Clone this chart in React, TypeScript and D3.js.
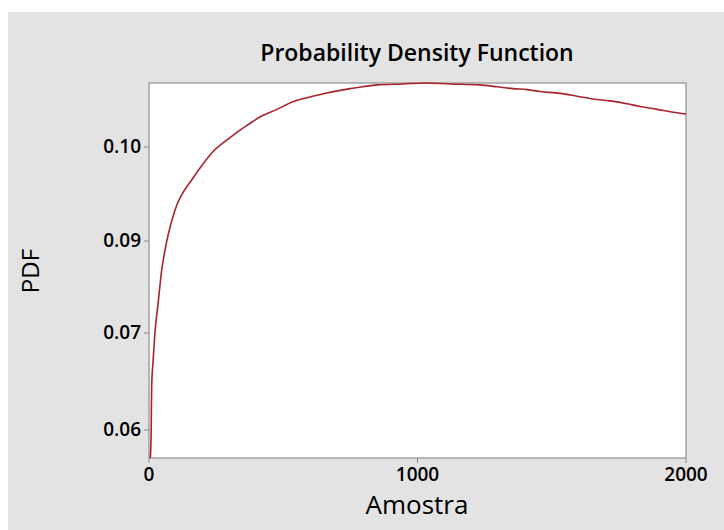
import React, { useEffect, useRef } from "react";
import * as d3 from "d3";

const amostra = [5, 8, 10, 15, 22, 34, 47, 66, 97, 164, 201, 238, 302, 339, 376, 402, 477, 536, 626, 749, 797, 849, 946, 1032, 1121, 1233, 1296, 1356, 1408, 1456, 1531, 1594, 1654, 1717, 1780, 1829, 1892, 1952, 2000];
const pdf = [0.0571, 0.0597, 0.0646, 0.067, 0.07, 0.0765, 0.0835, 0.0899, 0.0933, 0.0967, 0.0982, 0.0995, 0.101, 0.1018, 0.1025, 0.103, 0.104, 0.1048, 0.1055, 0.1062, 0.1064, 0.1066, 0.1067, 0.1068, 0.1067, 0.1066, 0.1064, 0.1062, 0.1061, 0.1059, 0.1057, 0.1054, 0.1051, 0.1049, 0.1046, 0.1043, 0.104, 0.1037, 0.1035];
const xTicks = [0, 1000, 2000];
const yTicks = [0.06, 0.07, 0.09, 0.1];
const yTickLabels = ["0.06", "0.07", "0.09", "0.10"];

const W = 724;
const H = 530;
const plot = { left: 149, top: 83, right: 686, bottom: 458 };
const FONT = "'Open Sans', 'Noto Sans', sans-serif";

export default function App() {
  const ref = useRef<SVGSVGElement | null>(null);

  useEffect(() => {
    const svg = d3.select(ref.current);
    svg.selectAll("*").remove();

    svg.append("rect").attr("x", 8).attr("y", 12).attr("width", W - 8).attr("height", H - 12).attr("fill", "#e3e3e3");

    const x = d3.scaleLinear().domain([0, 2000]).range([plot.left, plot.right]);
    // Non-uniform (piecewise) y axis as in the reference
    const y = d3
      .scaleLinear()
      .domain([0.0571, 0.06, 0.07, 0.09, 0.1, 0.1068])
      .range([plot.bottom, 430, 333, 241, 147, plot.top]);

    svg
      .append("rect")
      .attr("x", plot.left)
      .attr("y", plot.top)
      .attr("width", plot.right - plot.left)
      .attr("height", plot.bottom - plot.top)
      .attr("fill", "#ffffff")
      .attr("stroke", "#a3a3a3")
      .attr("stroke-width", 1.5);

    // y ticks
    const yg = svg.append("g");
    yTicks.forEach((t, i) => {
      const yy = y(t);
      yg.append("line").attr("x1", plot.left - 5).attr("x2", plot.left).attr("y1", yy).attr("y2", yy).attr("stroke", "#8c8c8c").attr("stroke-width", 1);
      yg.append("text")
        .attr("x", plot.left - 8)
        .attr("y", yy - 1)
        .attr("dy", "0.35em")
        .attr("text-anchor", "end")
        .attr("font-family", FONT)
        .attr("font-size", 19)
        .attr("font-weight", 600)
        .attr("fill", "#000")
        .text(yTickLabels[i]);
    });

    // x ticks
    const xg = svg.append("g");
    xTicks.forEach((t) => {
      const xx = x(t);
      xg.append("line").attr("x1", xx).attr("x2", xx).attr("y1", plot.bottom).attr("y2", plot.bottom + 5).attr("stroke", "#8c8c8c").attr("stroke-width", 1);
      xg.append("text")
        .attr("x", xx)
        .attr("y", 481)
        .attr("text-anchor", "middle")
        .attr("font-family", FONT)
        .attr("font-size", 19)
        .attr("font-weight", 600)
        .attr("fill", "#000")
        .text(String(t));
    });

    const data = amostra.map((a, i) => [a, pdf[i]] as [number, number]);
    const line = d3
      .line<[number, number]>()
      .x((d) => x(d[0]))
      .y((d) => y(d[1]))
      .curve(d3.curveMonotoneX);

    svg
      .append("path")
      .datum(data)
      .attr("d", line)
      .attr("fill", "none")
      .attr("stroke", "#a8232c")
      .attr("stroke-width", 1.6);

    svg
      .append("text")
      .attr("x", 417)
      .attr("y", 61)
      .attr("text-anchor", "middle")
      .attr("font-family", FONT)
      .attr("font-size", 23)
      .attr("font-weight", 600)
      .attr("fill", "#000")
      .text("Probability Density Function");

    svg
      .append("text")
      .attr("x", 417)
      .attr("y", 514)
      .attr("text-anchor", "middle")
      .attr("font-family", FONT)
      .attr("font-size", 26)
      .attr("fill", "#000")
      .text("Amostra");

    svg
      .append("text")
      .attr("transform", `translate(39,271) rotate(-90)`)
      .attr("text-anchor", "middle")
      .attr("font-family", FONT)
      .attr("font-size", 24)
      .attr("fill", "#000")
      .text("PDF");
  }, []);

  return (
    <div style={{ position: "fixed", left: 0, top: 0, width: W, height: H, background: "#fff" }}>
      <svg ref={ref} width={W} height={H} />
    </div>
  );
}
